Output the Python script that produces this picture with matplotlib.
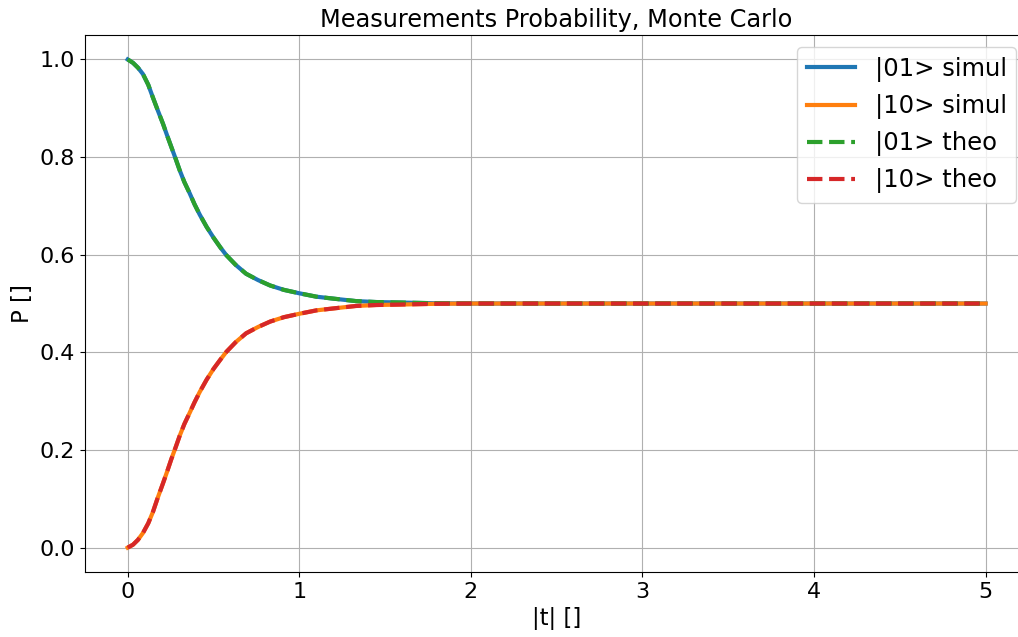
import matplotlib
matplotlib.use("Agg")
import matplotlib.pyplot as plt

# values
t = [0, 0.031, 0.06, 0.089, 0.12, 0.147, 0.175, 0.206, 0.23, 0.255, 0.28,
     0.303, 0.33, 0.361, 0.39, 0.42, 0.46, 0.5, 0.54, 0.575, 0.63, 0.69,
     0.76, 0.83, 0.91, 1.0, 1.1, 1.2, 1.33, 1.45, 1.6, 1.8, 2.0, 2.5, 3, 4, 5]
p01 = [1.0, 0.993, 0.983, 0.970, 0.948, 0.922, 0.896, 0.868, 0.844, 0.820,
       0.796, 0.773, 0.749, 0.726, 0.703, 0.682, 0.657, 0.635, 0.615, 0.599,
       0.579, 0.561, 0.548, 0.537, 0.528, 0.521, 0.514, 0.510, 0.505, 0.503,
       0.502, 0.5005, 0.5, 0.5, 0.5, 0.5, 0.5]
p10 = [0.0, 0.006, 0.016, 0.030, 0.050, 0.073, 0.102, 0.132, 0.156, 0.182,
       0.206, 0.229, 0.253, 0.276, 0.298, 0.319, 0.344, 0.366, 0.385, 0.401,
       0.421, 0.439, 0.452, 0.463, 0.472, 0.479, 0.486, 0.490, 0.495, 0.497,
       0.498, 0.4995, 0.5, 0.5, 0.5, 0.5, 0.5]

fig = plt.figure(figsize=(10.18, 6.37), dpi=100)
ax = fig.add_axes([0.0833, 0.102, 0.927, 0.843])

ax.plot(t, p01, lw=3, color="tab:blue", label="|01> simul")
ax.plot(t, p10, lw=3, color="tab:orange", label="|10> simul")
ax.plot(t, p01, "--", lw=3, color="tab:green", label="|01> theo")
ax.plot(t, p10, "--", lw=3, color="tab:red", label="|10> theo")

ax.set_title("Measurements Probability, Monte Carlo", fontsize=17.3)
ax.set_xlabel("|t| []", fontsize=16.5)
ax.set_ylabel("P []", fontsize=16.5)
ax.tick_params(labelsize=16)
ax.grid(True)
ax.legend(fontsize=17.5, loc="upper right")

fig.savefig("out.png", dpi=100)
